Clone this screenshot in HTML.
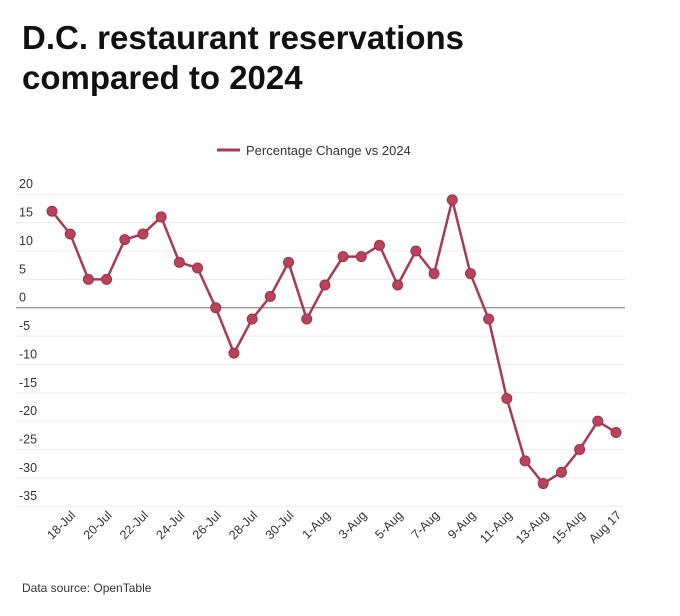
<!DOCTYPE html>
<html><head><meta charset="utf-8"><style>
body{margin:0;background:#fff;width:680px;height:616px;overflow:hidden;font-family:"Liberation Sans",sans-serif;}
h1{position:absolute;left:22px;top:18px;margin:0;font-size:33px;line-height:40px;font-weight:bold;color:#111;}
.src{position:absolute;left:22px;top:581px;font-size:12px;color:#333;}
svg{position:absolute;left:0;top:0;}
</style></head><body>
<h1>D.C. restaurant reservations<br>compared to 2024</h1>
<div class="src">Data source: OpenTable</div>
<svg id="c" width="680" height="616"></svg>
<script>
const dates=["17-Jul","18-Jul","19-Jul","20-Jul","21-Jul","22-Jul","23-Jul","24-Jul","25-Jul","26-Jul","27-Jul","28-Jul","29-Jul","30-Jul","31-Jul","1-Aug","2-Aug","3-Aug","4-Aug","5-Aug","6-Aug","7-Aug","8-Aug","9-Aug","10-Aug","11-Aug","12-Aug","13-Aug","14-Aug","15-Aug","16-Aug","Aug 17"];
const values=[17,13,5,5,12,13,16,8,7,0,-8,-2,2,8,-2,4,9,9,11,4,10,6,19,6,-2,-16,-27,-31,-29,-25,-20,-22];
const yTicks=[20,15,10,5,0,-5,-10,-15,-20,-25,-30,-35];
const xLabelIdx=[1,3,5,7,9,11,13,15,17,19,21,23,25,27,29,31];
const NS="http://www.w3.org/2000/svg";
const svg=document.getElementById('c');
const x=i=>52+i*(564/(dates.length-1));
const y=v=>307.7-v*(312/55);
function mk(t,a){const e=document.createElementNS(NS,t);for(const k in a)e.setAttribute(k,a[k]);svg.appendChild(e);return e;}
yTicks.forEach(v=>{
 const l=mk('line',{x1:16,x2:625,y1:y(v),y2:y(v),stroke:v===0?'#777':'#ececec','stroke-width':1});
 
 
 const t=mk('text',{x:19,y:y(v)-6,'font-size':12.5,fill:'#333'});t.textContent=v;
 
 
});
xLabelIdx.forEach(i=>{
 const t=mk('text',{x:x(i)+6,y:516,'font-size':12.5,fill:'#333','text-anchor':'end',transform:`rotate(-45 ${x(i)+6} 516)`});
 t.textContent=dates[i];
 
 
});
const p=mk('polyline',{points:values.map((v,i)=>x(i)+','+y(v)).join(' '),fill:'none',stroke:'#a93a50','stroke-width':2.5});


values.forEach((v,i)=>{
 const c=mk('circle',{cx:x(i),cy:y(v),r:5,fill:'#b8435a',stroke:'#9a3348','stroke-width':1});
 
 
});
const lg=mk('line',{x1:217,x2:240,y1:150,y2:150,stroke:'#a93a50','stroke-width':3});


const lt=mk('text',{x:246,y:155,'font-size':13,fill:'#333'});lt.textContent='Percentage Change vs 2024';


</script>
</body></html>
